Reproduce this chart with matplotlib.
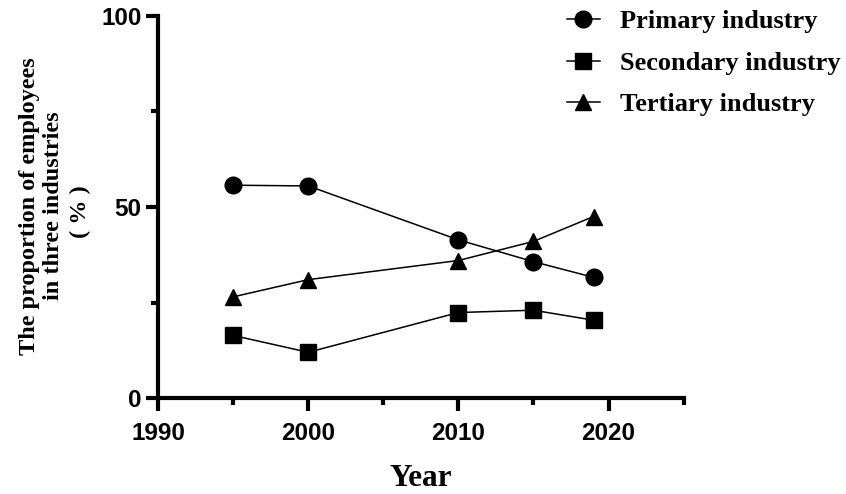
import matplotlib
matplotlib.use("Agg")
import matplotlib.pyplot as plt
from matplotlib.ticker import MultipleLocator

# values
years = [1995, 2000, 2010, 2015, 2019]
primary = [55.7, 55.5, 41.4, 35.7, 31.6]
secondary = [16.4, 12.0, 22.4, 23.0, 20.4]
tertiary = [26.5, 31.0, 36.0, 41.0, 47.5]
series_labels = ["Primary industry", "Secondary industry", "Tertiary industry"]

serif = ["Liberation Serif", "Noto Sans CJK SC"]
sans = "Liberation Sans"

fig = plt.figure(figsize=(8.46, 4.94), dpi=100)
ax = fig.add_axes([0.187, 0.194, 0.621, 0.774])

ax.plot(years, primary, color="black", lw=1.1, marker="o", ms=12, label=series_labels[0])
ax.plot(years, secondary, color="black", lw=1.1, marker="s", ms=11, label=series_labels[1])
ax.plot(years, tertiary, color="black", lw=1.1, marker="^", ms=11.5, label=series_labels[2])

ax.set_xlim(1990, 2025)
ax.set_ylim(0, 100)
ax.xaxis.set_major_locator(MultipleLocator(10))
ax.xaxis.set_minor_locator(MultipleLocator(5))
ax.yaxis.set_major_locator(MultipleLocator(50))
ax.yaxis.set_minor_locator(MultipleLocator(25))

for side in ("top", "right"):
    ax.spines[side].set_visible(False)
for side in ("left", "bottom"):
    ax.spines[side].set_linewidth(3.0)

ax.tick_params(which="major", length=9, width=3.0, direction="out")
ax.tick_params(which="minor", length=5, width=3.0, direction="out")
ax.tick_params(axis="x", which="major", pad=8)
ax.tick_params(axis="y", which="major", pad=3)
for lab in ax.get_xticklabels() + ax.get_yticklabels():
    lab.set_fontfamily(sans)
    lab.set_fontweight("bold")
    lab.set_fontsize(17.5)

ax.set_xlabel("Year", family=serif, fontweight="bold", fontsize=22.5, labelpad=14)

# y label: two text lines plus the unit line
fig.text(0.049, 0.583, "The proportion of employees\nin three industries",
         rotation=90, ha="center", va="center", multialignment="center",
         family=serif, fontweight="bold", fontsize=17.5, linespacing=1.2)
fig.text(0.0946, 0.572, "( % )", rotation=90, ha="center", va="center",
         family=serif, fontweight="bold", fontsize=17.5)

handles, labels = ax.get_legend_handles_labels()
fig.legend(handles, labels, loc="upper left", bbox_to_anchor=(0.670, 0.980),
           frameon=False, borderpad=0, borderaxespad=0,
           prop={"family": serif, "weight": "bold", "size": 19},
           handlelength=1.25, handletextpad=0.75, labelspacing=0.68)

fig.savefig("out.png", dpi=100)
